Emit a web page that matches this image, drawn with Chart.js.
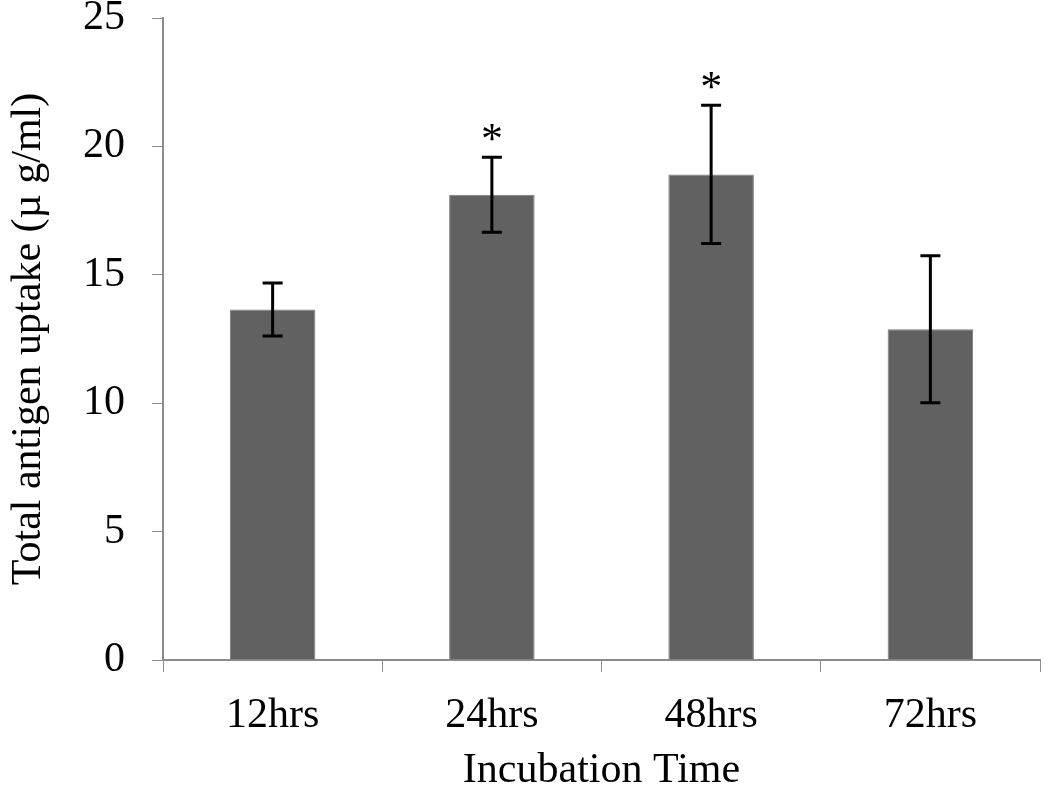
<!DOCTYPE html>
<html>
<head>
<meta charset="utf-8">
<script src="https://cdn.jsdelivr.net/npm/chart.js@4.4.1/dist/chart.umd.min.js"></script>
<style>
  html, body { margin: 0; padding: 0; background: #fff; }
  #wrap { width: 1050px; height: 796px; }
</style>
</head>
<body>
<div id="wrap"><canvas id="uptakeChart" width="1050" height="796"></canvas></div>
<script>
// Data
const timepoints = ['12hrs', '24hrs', '48hrs', '72hrs'];
const uptake = [13.65, 18.12, 18.91, 12.88];
const uptakeErr = [1.03, 1.46, 2.69, 2.86];
const significance = ['', '*', '*', ''];
const yTicks = [0, 5, 10, 15, 20, 25];

const serif = "'Liberation Serif', 'Times New Roman', serif";
const axisGrey = '#8c8c8c';

// error bars + asterisks, drawn through the chart's own scales
const errorBarPlugin = {
    id: 'errorBars',
    afterDatasetsDraw(chart) {
        const ctx = chart.ctx;
        const xs = chart.scales.x, ys = chart.scales.y;
        ctx.save();
        ctx.strokeStyle = '#000';
        ctx.lineWidth = 3;
        uptake.forEach((v, i) => {
            const x = xs.getPixelForValue(i);
            const yTop = ys.getPixelForValue(v + uptakeErr[i]);
            const yBot = ys.getPixelForValue(v - uptakeErr[i]);
            ctx.beginPath();
            ctx.moveTo(x, yTop); ctx.lineTo(x, yBot);
            ctx.moveTo(x - 10, yTop); ctx.lineTo(x + 10, yTop);
            ctx.moveTo(x - 10, yBot); ctx.lineTo(x + 10, yBot);
            ctx.stroke();
            if (significance[i]) {
                ctx.fillStyle = '#000';
                ctx.font = '44px ' + serif;
                ctx.textAlign = 'center';
                ctx.textBaseline = 'middle';
                ctx.fillText(significance[i], x, yTop - 16);
            }
        });
        ctx.restore();
    }
};

new Chart(document.getElementById('uptakeChart').getContext('2d'), {
    type: 'bar',
    data: {
        labels: timepoints,
        datasets: [{
            label: 'Total antigen uptake',
            data: uptake,
            backgroundColor: '#616161',
            borderColor: '#7a7a7a',
            borderWidth: 1,
            categoryPercentage: 1,
            barPercentage: 0.39
        }]
    },
    options: {
        responsive: false,
        animation: false,
        layout: { padding: { top: 18, right: 10, left: 0, bottom: 0 } },
        plugins: {
            legend: { display: false },
            tooltip: { enabled: false }
        },
        scales: {
            x: {
                grid: { display: true, drawOnChartArea: false, color: axisGrey, tickLength: 12, offset: true },
                border: { color: axisGrey, width: 2 },
                ticks: { color: '#000', font: { family: serif, size: 42 }, padding: 19 },
                title: {
                    display: true,
                    text: 'Incubation Time',
                    color: '#000',
                    font: { family: serif, size: 42 },
                    padding: { top: 0, bottom: 0 }
                },
                afterFit: (scale) => { scale.height = 136; scale.paddingLeft = 0; scale.paddingRight = 0; }
            },
            y: {
                min: 0,
                max: 25,
                afterBuildTicks: (scale) => { scale.ticks = yTicks.map(v => ({ value: v })); },
                grid: { display: true, drawOnChartArea: false, color: axisGrey, tickLength: 11 },
                border: { color: axisGrey, width: 2 },
                ticks: { color: '#000', font: { family: serif, size: 42 }, padding: 27 },
                title: {
                    display: true,
                    text: 'Total antigen uptake (µ g/ml)',
                    color: '#000',
                    font: { family: serif, size: 42 },
                    padding: { top: 4, bottom: 0 }
                },
                afterFit: (scale) => { scale.width = 163; scale.paddingTop = 0; scale.paddingBottom = 0; }
            }
        }
    },
    plugins: [errorBarPlugin]
});
</script>
</body>
</html>
